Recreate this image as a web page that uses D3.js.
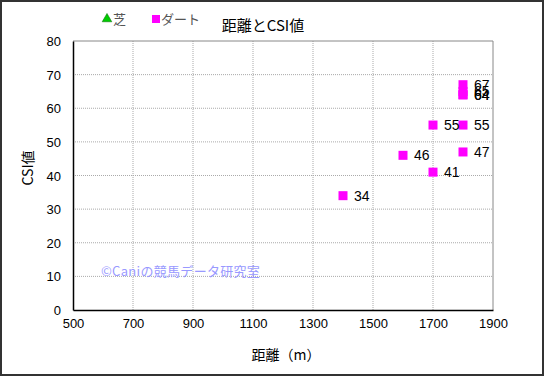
<!DOCTYPE html>
<html>
<head>
<meta charset="utf-8">
<script src="https://cdn.jsdelivr.net/npm/d3@7"></script>
<style>
  body { margin: 0; background: #fff; }
  svg { display: block; font-family: "Liberation Sans", "Noto Sans CJK JP", sans-serif; }
</style>
</head>
<body>
<svg class="main"></svg>
<script>
// data
const turfDist = [];
const turfCsi = [];
const dirtDist = [1400, 1600, 1700, 1700, 1800, 1800, 1800, 1800, 1800, 1800];
const dirtCsi = [34, 46, 41, 55, 67, 65, 64, 64, 55, 47];
const xTicks = [500, 700, 900, 1100, 1300, 1500, 1700, 1900];
const yTicks = [0, 10, 20, 30, 40, 50, 60, 70, 80];

const width = 545;
const height = 377;
const svg = d3.select("svg.main")
    .attr("width", width)
    .attr("height", height);

// outer frame
svg.append("rect")
    .attr("x", 1).attr("y", 1)
    .attr("width", width - 3).attr("height", height - 3)
    .style("fill", "#fff")
    .style("stroke", "#333")
    .style("stroke-width", 2);

const x = d3.scaleLinear().domain([500, 1900]).range([73, 493]);
const y = d3.scaleLinear().domain([0, 80]).range([310, 41]);

// grid
svg.append("g").selectAll("line").data(xTicks.slice(1, -1)).join("line")
    .attr("x1", d => x(d)).attr("x2", d => x(d))
    .attr("y1", y(80)).attr("y2", y(0))
    .style("stroke", "#aaa").style("stroke-dasharray", "1,1");
svg.append("g").selectAll("line").data(yTicks.slice(1, -1)).join("line")
    .attr("x1", x(500)).attr("x2", x(1900))
    .attr("y1", d => y(d)).attr("y2", d => y(d))
    .style("stroke", "#aaa").style("stroke-dasharray", "1,1");

// top / right border of plot
svg.append("path")
    .attr("d", `M${x(500)},${y(80)}H${x(1900)}V${y(0)}`)
    .style("fill", "none").style("stroke", "#888");

// axes
const xAxis = svg.append("g")
    .attr("transform", `translate(0,${y(0)})`)
    .call(d3.axisBottom(x).tickValues(xTicks).tickSize(0).tickPadding(9).tickFormat(d3.format("d")));
const yAxis = svg.append("g")
    .attr("transform", `translate(${x(500)},0)`)
    .call(d3.axisLeft(y).tickValues(yTicks).tickSize(0).tickPadding(12));
[xAxis, yAxis].forEach(a => {
    a.select(".domain").style("stroke", "#000").style("stroke-width", 1.5);
    a.selectAll("text").style("font-size", "13px").style("fill", "#000")
        .style("font-family", "'Liberation Sans', sans-serif");
});
yAxis.selectAll("text").attr("dy", "0.35em");

// watermark
svg.append("text")
    .attr("x", 101).attr("y", 276)
    .style("font-size", "13px")
    .style("letter-spacing", "0.3px")
    .style("fill", "#9999ff")
    .style("font-family", "'Noto Sans CJK JP', sans-serif")
    .text("©Caniの競馬データ研究室");

// points
const dirt = dirtDist.map((d, i) => ({ d: d, v: dirtCsi[i] }));
svg.append("g").selectAll("rect").data(dirt).join("rect")
    .attr("x", p => x(p.d) - 4.5).attr("y", p => y(p.v) - 4.5)
    .attr("width", 9).attr("height", 9)
    .style("fill", "#ff00ff");
svg.append("g").selectAll("text").data(dirt).join("text")
    .attr("x", p => x(p.d) + 11).attr("y", p => y(p.v) + 5)
    .style("font-size", "14px")
    .style("fill", "#000")
    .text(p => p.v);

// title
svg.append("text")
    .attr("x", 263).attr("y", 31)
    .attr("text-anchor", "middle")
    .style("font-size", "15px")
    .style("font-family", "'Noto Sans CJK JP', sans-serif")
    .text("距離とCSI値");

// legend
svg.append("path")
    .attr("d", d3.symbol().type(d3.symbolTriangle).size(40)())
    .attr("transform", "translate(107,19)")
    .style("fill", "#00cc00").style("stroke", "#006600").style("stroke-width", 0.5);
svg.append("text")
    .attr("x", 113).attr("y", 24)
    .style("font-size", "13px").style("fill", "#555")
    .style("font-family", "'Noto Sans CJK JP', sans-serif")
    .text("芝");
svg.append("rect")
    .attr("x", 152).attr("y", 15).attr("width", 8).attr("height", 8)
    .style("fill", "#ff00ff");
svg.append("text")
    .attr("x", 161).attr("y", 24)
    .style("font-size", "13px").style("fill", "#555")
    .style("font-family", "'Noto Sans CJK JP', sans-serif")
    .text("ダート");

// axis titles
svg.append("text")
    .attr("transform", "translate(33,168) rotate(-90)")
    .attr("text-anchor", "middle")
    .style("font-size", "14px")
    .style("font-family", "'Noto Sans CJK JP', sans-serif")
    .text("CSI値");
svg.append("text")
    .attr("x", 286).attr("y", 360)
    .attr("text-anchor", "middle")
    .style("font-size", "14px")
    .style("font-family", "'Noto Sans CJK JP', sans-serif")
    .text("距離（m）");
</script>
</body>
</html>
